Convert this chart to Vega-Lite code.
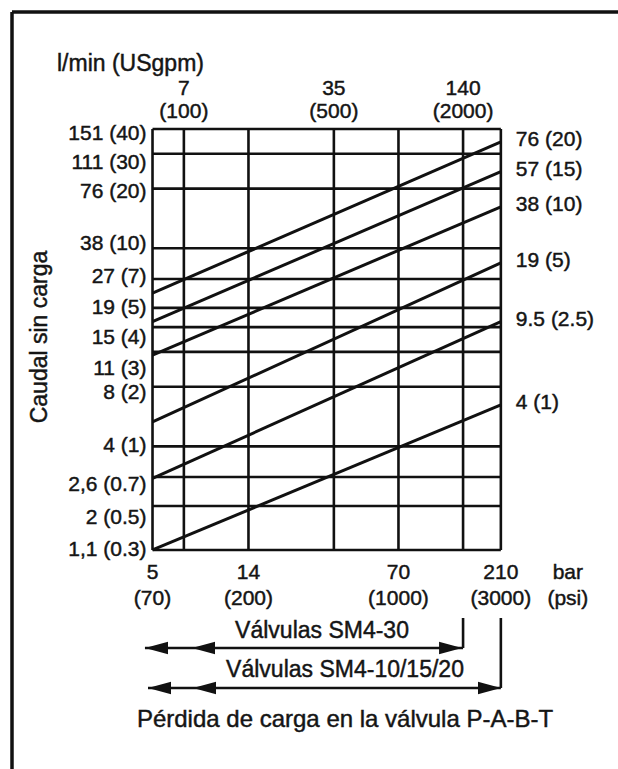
{
  "$schema": "https://vega.github.io/schema/vega-lite/v6.json",
  "width": 606,
  "height": 757,
  "autosize": {"type": "none"},
  "padding": {"left": 12, "top": 12, "right": 0, "bottom": 0},
  "background": "white",
  "config": {
    "view": {"stroke": null},
    "text": {"font": "Liberation Sans", "fontSize": 21, "color": "#151515", "stroke": "#151515", "strokeWidth": 0.45},
    "rule": {"color": "#111111"},
    "line": {"color": "#111111"}
  },
  "datasets": {
    "hgrid": [
      {"gpm": 40, "label": "151 (40)", "at": 37.8},
      {"gpm": 30, "label": "111 (30)", "at": 27.0},
      {"gpm": 20, "label": "76 (20)", "at": 19.3},
      {"gpm": 10, "label": "38 (10)", "at": 10.5},
      {"gpm": 7, "label": "27 (7)", "at": 7.2},
      {"gpm": 5, "label": "19 (5)", "at": 5.0},
      {"gpm": 4, "label": "15 (4)", "at": 3.53},
      {"gpm": 3, "label": "11 (3)", "at": 2.46},
      {"gpm": 2, "label": "8 (2)", "at": 1.86},
      {"gpm": 1, "label": "4 (1)", "at": 1.0},
      {"gpm": 0.7, "label": "2,6 (0.7)", "at": 0.638},
      {"gpm": 0.5, "label": "2 (0.5)", "at": 0.435},
      {"gpm": 0.3, "label": "1,1 (0.3)", "at": 0.3}
    ],
    "vgrid": [
      {"bar": 5}, {"bar": 7}, {"bar": 14}, {"bar": 35}, {"bar": 70}, {"bar": 140}, {"bar": 210}
    ],
    "toplabels": [
      {"bar": 7, "label": "7\n(100)"},
      {"bar": 35, "label": "35\n(500)"},
      {"bar": 140, "label": "140\n(2000)"}
    ],
    "bottomlabels": [
      {"bar": 5, "label": "5\n(70)"},
      {"bar": 14, "label": "14\n(200)"},
      {"bar": 70, "label": "70\n(1000)"},
      {"bar": 210, "label": "210\n(3000)"}
    ],
    "curves": [
      {"curve": "76 (20)", "bar": 5, "gpm": 5.93},
      {"curve": "76 (20)", "bar": 210, "gpm": 34.5},
      {"curve": "57 (15)", "bar": 5, "gpm": 4.26},
      {"curve": "57 (15)", "bar": 210, "gpm": 24.4},
      {"curve": "38 (10)", "bar": 5, "gpm": 2.89},
      {"curve": "38 (10)", "bar": 210, "gpm": 16.2},
      {"curve": "19 (5)", "bar": 5, "gpm": 1.33},
      {"curve": "19 (5)", "bar": 210, "gpm": 8.43},
      {"curve": "9.5 (2.5)", "bar": 5, "gpm": 0.69},
      {"curve": "9.5 (2.5)", "bar": 210, "gpm": 4.26},
      {"curve": "4 (1)", "bar": 5, "gpm": 0.3},
      {"curve": "4 (1)", "bar": 210, "gpm": 1.62}
    ]
  },
  "layer": [
    {
      "data": {"values": [{}]},
      "mark": {"type": "rule", "strokeWidth": 3.5},
      "encoding": {
        "x": {"datum": 1.1071, "type": "quantitative", "scale": {"type": "log", "domain": [1.1071, 738.1], "nice": false}, "axis": null},
        "x2": {"datum": 738.1},
        "y": {"datum": 155.89, "type": "quantitative", "scale": {"type": "log", "domain": [0.023518, 155.89], "nice": false}, "axis": null}
      }
    },
    {
      "data": {"values": [{}]},
      "mark": {"type": "rule", "strokeWidth": 3.5},
      "encoding": {
        "x": {"datum": 1.1071, "type": "quantitative", "scale": {"type": "log", "domain": [1.1071, 738.1], "nice": false}, "axis": null},
        "y": {"datum": 0.023518, "type": "quantitative", "scale": {"type": "log", "domain": [0.023518, 155.89], "nice": false}, "axis": null},
        "y2": {"datum": 155.89}
      }
    },
    {
      "data": {"name": "hgrid"},
      "mark": {"type": "rule", "strokeWidth": 2.6},
      "encoding": {
        "x": {"datum": 5, "type": "quantitative", "scale": {"type": "log", "domain": [1.1071, 738.1], "nice": false}, "axis": null},
        "x2": {"datum": 210},
        "y": {"field": "gpm", "type": "quantitative", "scale": {"type": "log", "domain": [0.023518, 155.89], "nice": false}, "axis": null}
      }
    },
    {
      "data": {"name": "vgrid"},
      "mark": {"type": "rule", "strokeWidth": 2.6},
      "encoding": {
        "x": {"field": "bar", "type": "quantitative", "scale": {"type": "log", "domain": [1.1071, 738.1], "nice": false}, "axis": null},
        "y": {"datum": 0.3, "type": "quantitative", "scale": {"type": "log", "domain": [0.023518, 155.89], "nice": false}, "axis": null},
        "y2": {"datum": 40}
      }
    },
    {
      "data": {"name": "curves"},
      "mark": {"type": "line", "strokeWidth": 3},
      "encoding": {
        "x": {"field": "bar", "type": "quantitative", "scale": {"type": "log", "domain": [1.1071, 738.1], "nice": false}, "axis": null},
        "y": {"field": "gpm", "type": "quantitative", "scale": {"type": "log", "domain": [0.023518, 155.89], "nice": false}, "axis": null},
        "detail": {"field": "curve"}
      }
    },
    {
      "data": {"name": "hgrid"},
      "mark": {"type": "text", "align": "right", "baseline": "middle", "dx": -6},
      "encoding": {
        "x": {"datum": 5, "type": "quantitative", "scale": {"type": "log", "domain": [1.1071, 738.1], "nice": false}, "axis": null},
        "y": {"field": "at", "type": "quantitative", "scale": {"type": "log", "domain": [0.023518, 155.89], "nice": false}, "axis": null},
        "text": {"field": "label"}
      }
    },
    {
      "data": {"name": "curves"},
      "transform": [{"filter": "datum.bar == 210"}],
      "mark": {"type": "text", "align": "left", "baseline": "middle", "dx": 15, "dy": -2},
      "encoding": {
        "x": {"datum": 210, "type": "quantitative", "scale": {"type": "log", "domain": [1.1071, 738.1], "nice": false}, "axis": null},
        "y": {"field": "gpm", "type": "quantitative", "scale": {"type": "log", "domain": [0.023518, 155.89], "nice": false}, "axis": null},
        "text": {"field": "curve"}
      }
    },
    {
      "data": {"name": "toplabels"},
      "mark": {"type": "text", "align": "center", "baseline": "middle", "lineBreak": "\n", "lineHeight": 23, "dy": -40},
      "encoding": {
        "x": {"field": "bar", "type": "quantitative", "scale": {"type": "log", "domain": [1.1071, 738.1], "nice": false}, "axis": null},
        "y": {"datum": 40, "type": "quantitative", "scale": {"type": "log", "domain": [0.023518, 155.89], "nice": false}, "axis": null},
        "text": {"field": "label"}
      }
    },
    {
      "data": {"name": "bottomlabels"},
      "mark": {"type": "text", "align": "center", "baseline": "middle", "lineBreak": "\n", "lineHeight": 26, "dy": 23},
      "encoding": {
        "x": {"field": "bar", "type": "quantitative", "scale": {"type": "log", "domain": [1.1071, 738.1], "nice": false}, "axis": null},
        "y": {"datum": 0.3, "type": "quantitative", "scale": {"type": "log", "domain": [0.023518, 155.89], "nice": false}, "axis": null},
        "text": {"field": "label"}
      }
    },
    {
      "data": {"values": [{"unit": "bar\n(psi)"}]},
      "mark": {"type": "text", "align": "center", "baseline": "middle", "lineBreak": "\n", "lineHeight": 26, "dy": 23, "dx": 67},
      "encoding": {
        "x": {"datum": 210, "type": "quantitative", "scale": {"type": "log", "domain": [1.1071, 738.1], "nice": false}, "axis": null},
        "y": {"datum": 0.3, "type": "quantitative", "scale": {"type": "log", "domain": [0.023518, 155.89], "nice": false}, "axis": null},
        "text": {"field": "unit"}
      }
    },
    {
      "data": {"values": [{"t": "l/min (USgpm)"}]},
      "mark": {"type": "text", "align": "left", "baseline": "middle", "fontSize": 23},
      "encoding": {
        "x": {"datum": 1.794, "type": "quantitative", "scale": {"type": "log", "domain": [1.1071, 738.1], "nice": false}, "axis": null},
        "y": {"datum": 85.2, "type": "quantitative", "scale": {"type": "log", "domain": [0.023518, 155.89], "nice": false}, "axis": null},
        "text": {"field": "t"}
      }
    },
    {
      "data": {"values": [{"t": "Caudal sin carga"}]},
      "mark": {"type": "text", "align": "center", "baseline": "middle", "angle": 270, "fontSize": 23},
      "encoding": {
        "x": {"datum": 1.4955, "type": "quantitative", "scale": {"type": "log", "domain": [1.1071, 738.1], "nice": false}, "axis": null},
        "y": {"datum": 3.566, "type": "quantitative", "scale": {"type": "log", "domain": [0.023518, 155.89], "nice": false}, "axis": null},
        "text": {"field": "t"}
      }
    },
    {
      "data": {"values": [{"t": "Válvulas SM4-30"}]},
      "mark": {"type": "text", "align": "center", "baseline": "middle", "fontSize": 23},
      "encoding": {
        "x": {"datum": 30.82, "type": "quantitative", "scale": {"type": "log", "domain": [1.1071, 738.1], "nice": false}, "axis": null},
        "y": {"datum": 0.11701, "type": "quantitative", "scale": {"type": "log", "domain": [0.023518, 155.89], "nice": false}, "axis": null},
        "text": {"field": "t"}
      }
    },
    {
      "data": {"values": [{"t": "Válvulas SM4-10/15/20"}]},
      "mark": {"type": "text", "align": "center", "baseline": "middle", "fontSize": 23},
      "encoding": {
        "x": {"datum": 39.45, "type": "quantitative", "scale": {"type": "log", "domain": [1.1071, 738.1], "nice": false}, "axis": null},
        "y": {"datum": 0.07434, "type": "quantitative", "scale": {"type": "log", "domain": [0.023518, 155.89], "nice": false}, "axis": null},
        "text": {"field": "t"}
      }
    },
    {
      "data": {"values": [{"t": "Pérdida de carga en la válvula P-A-B-T"}]},
      "mark": {"type": "text", "align": "center", "baseline": "middle", "fontSize": 24},
      "encoding": {
        "x": {"datum": 39.45, "type": "quantitative", "scale": {"type": "log", "domain": [1.1071, 738.1], "nice": false}, "axis": null},
        "y": {"datum": 0.04158, "type": "quantitative", "scale": {"type": "log", "domain": [0.023518, 155.89], "nice": false}, "axis": null},
        "text": {"field": "t"}
      }
    },
    {
      "data": {"values": [{}]},
      "mark": {"type": "rule", "strokeWidth": 2.6},
      "encoding": {
        "x": {"datum": 4.61, "type": "quantitative", "scale": {"type": "log", "domain": [1.1071, 738.1], "nice": false}, "axis": null},
        "x2": {"datum": 140},
        "y": {"datum": 0.09601, "type": "quantitative", "scale": {"type": "log", "domain": [0.023518, 155.89], "nice": false}, "axis": null}
      }
    },
    {
      "data": {"values": [{}]},
      "mark": {"type": "rule", "strokeWidth": 2.6},
      "encoding": {
        "x": {"datum": 140, "type": "quantitative", "scale": {"type": "log", "domain": [1.1071, 738.1], "nice": false}, "axis": null},
        "y": {"datum": 0.13607, "type": "quantitative", "scale": {"type": "log", "domain": [0.023518, 155.89], "nice": false}, "axis": null},
        "y2": {"datum": 0.09601}
      }
    },
    {
      "data": {"values": [{}]},
      "mark": {"type": "rule", "strokeWidth": 2.6},
      "encoding": {
        "x": {"datum": 4.764, "type": "quantitative", "scale": {"type": "log", "domain": [1.1071, 738.1], "nice": false}, "axis": null},
        "x2": {"datum": 210},
        "y": {"datum": 0.06032, "type": "quantitative", "scale": {"type": "log", "domain": [0.023518, 155.89], "nice": false}, "axis": null}
      }
    },
    {
      "data": {"values": [{}]},
      "mark": {"type": "rule", "strokeWidth": 2.6},
      "encoding": {
        "x": {"datum": 210, "type": "quantitative", "scale": {"type": "log", "domain": [1.1071, 738.1], "nice": false}, "axis": null},
        "y": {"datum": 0.13607, "type": "quantitative", "scale": {"type": "log", "domain": [0.023518, 155.89], "nice": false}, "axis": null},
        "y2": {"datum": 0.06032}
      }
    },
    {
      "data": {"values": [{"x": 5.22}, {"x": 8.643}]},
      "mark": {"type": "point", "shape": "M -1 0 L 1 -0.55 L 1 0.55 Z", "size": 529, "filled": true, "opacity": 1, "color": "#111111"},
      "encoding": {
        "x": {"field": "x", "type": "quantitative", "scale": {"type": "log", "domain": [1.1071, 738.1], "nice": false}, "axis": null},
        "y": {"datum": 0.09601, "type": "quantitative", "scale": {"type": "log", "domain": [0.023518, 155.89], "nice": false}, "axis": null}
      }
    },
    {
      "data": {"values": [{"x": 5.391}, {"x": 8.736}]},
      "mark": {"type": "point", "shape": "M -1 0 L 1 -0.55 L 1 0.55 Z", "size": 529, "filled": true, "opacity": 1, "color": "#111111"},
      "encoding": {
        "x": {"field": "x", "type": "quantitative", "scale": {"type": "log", "domain": [1.1071, 738.1], "nice": false}, "axis": null},
        "y": {"datum": 0.06032, "type": "quantitative", "scale": {"type": "log", "domain": [0.023518, 155.89], "nice": false}, "axis": null}
      }
    },
    {
      "data": {"values": [{}]},
      "mark": {"type": "point", "shape": "M 1 0 L -1 -0.55 L -1 0.55 Z", "size": 529, "filled": true, "opacity": 1, "color": "#111111"},
      "encoding": {
        "x": {"datum": 122.4, "type": "quantitative", "scale": {"type": "log", "domain": [1.1071, 738.1], "nice": false}, "axis": null},
        "y": {"datum": 0.09601, "type": "quantitative", "scale": {"type": "log", "domain": [0.023518, 155.89], "nice": false}, "axis": null}
      }
    },
    {
      "data": {"values": [{}]},
      "mark": {"type": "point", "shape": "M 1 0 L -1 -0.55 L -1 0.55 Z", "size": 529, "filled": true, "opacity": 1, "color": "#111111"},
      "encoding": {
        "x": {"datum": 185.9, "type": "quantitative", "scale": {"type": "log", "domain": [1.1071, 738.1], "nice": false}, "axis": null},
        "y": {"datum": 0.06032, "type": "quantitative", "scale": {"type": "log", "domain": [0.023518, 155.89], "nice": false}, "axis": null}
      }
    }
  ]
}
